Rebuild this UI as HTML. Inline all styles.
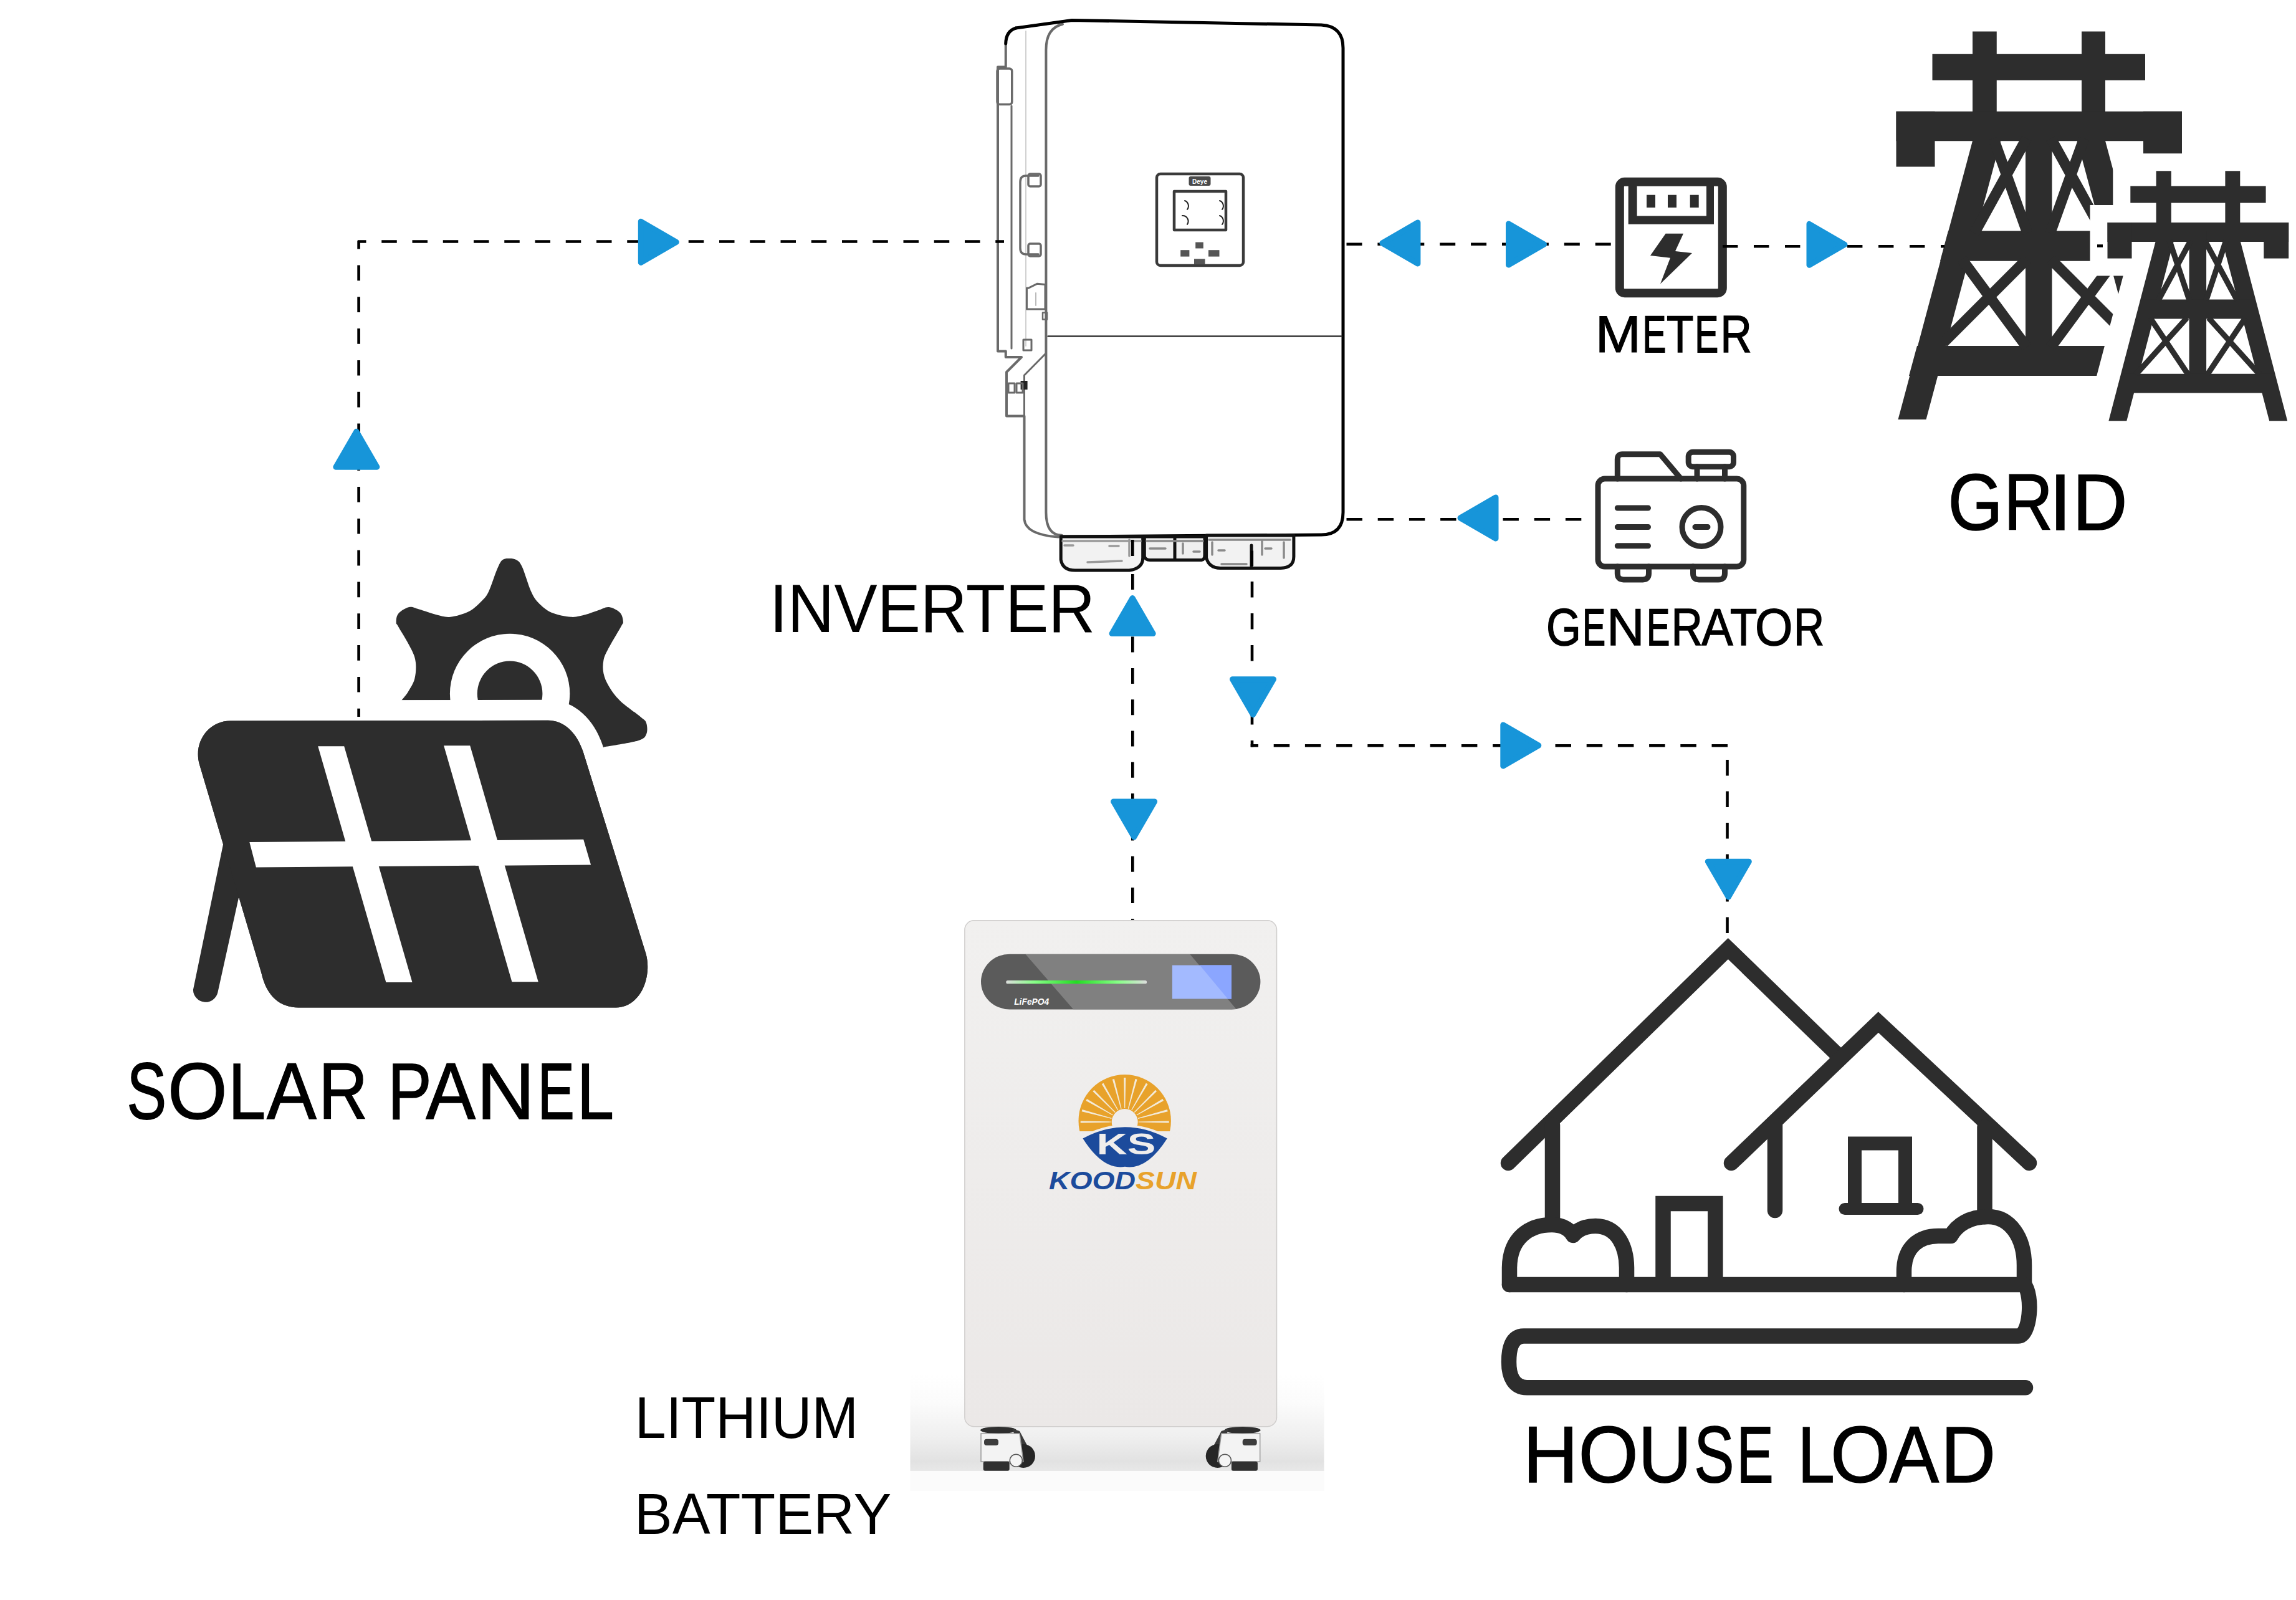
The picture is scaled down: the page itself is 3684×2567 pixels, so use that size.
<!DOCTYPE html>
<html><head><meta charset="utf-8"><style>html,body{margin:0;padding:0;background:#fff;overflow:hidden}svg{display:block}</style></head>
<body><svg width="3684" height="2567" viewBox="0 0 3684 2567"><rect width="3684" height="2567" fill="#fff"/>
<defs><linearGradient id="shadow" x1="0" y1="0" x2="0" y2="1"><stop offset="0" stop-color="#fff"/><stop offset="0.3" stop-color="#fbfbfb"/><stop offset="0.65" stop-color="#efefef"/><stop offset="0.9" stop-color="#e2e2e2"/><stop offset="1" stop-color="#e8e8e8"/></linearGradient><linearGradient id="gbar" x1="0" y1="0" x2="1" y2="0"><stop offset="0" stop-color="#ddd"/><stop offset="0.2" stop-color="#8f8"/><stop offset="0.5" stop-color="#2d2"/><stop offset="0.8" stop-color="#8f8"/><stop offset="1" stop-color="#ddd"/></linearGradient></defs>
<rect x="1460.5" y="2360" width="664" height="32" fill="#fbfbfb"/><rect x="1460.5" y="2205" width="664" height="155" fill="url(#shadow)"/>
<linearGradient id="body" x1="0" y1="0" x2="0" y2="1"><stop offset="0" stop-color="#f1f0ef"/><stop offset="1" stop-color="#ebe8e7"/></linearGradient><rect x="1547.9" y="1476.8" width="500.6" height="811.9" rx="15" fill="url(#body)" stroke="#cfcdcc" stroke-width="1.5"/>
<rect x="1574" y="1530.7" width="448.4" height="88.8" rx="46" fill="#5b5b5b"/>
<clipPath id="pill"><rect x="1574" y="1530.7" width="448.4" height="88.8" rx="46"/></clipPath>
<polygon points="1645.3,1530.7 1909.2,1530.7 1984,1619.5 1722.3,1619.5" fill="#808080" clip-path="url(#pill)"/>
<rect x="1614.3" y="1573" width="225.8" height="5.3" rx="2.6" fill="url(#gbar)"/>
<rect x="1880.9" y="1548.6" width="95.1" height="53.9" fill="#a3baff"/>
<polygon points="1925,1548.6 1976,1548.6 1976,1602.5 1970,1602.5" fill="#8ba6ff"/>
<text x="1627.2" y="1612.2" font-family="Liberation Sans, sans-serif" font-weight="bold" font-style="italic" font-size="15" fill="#fff" textLength="56" lengthAdjust="spacingAndGlyphs">LiFePO4</text>
<ellipse cx="1602" cy="2294.5" rx="29" ry="5.5" fill="#2e2e2e"/>
<polygon points="1624.0,2292.0 1636.0,2296.0 1655.0,2332.0 1642.0,2338.0" fill="#3a3a3a"/>
<circle cx="1642" cy="2336" r="19" fill="#262626"/>
<path d="M1574 2300 H1636 L1642 2345 H1574 Z" fill="#f3f3f3" stroke="#9a9a9a" stroke-width="1.5"/>
<rect x="1579" y="2308.7" width="23" height="10.3" rx="4" fill="#3c3c3c"/>
<rect x="1577.7" y="2344.7" width="42" height="15" rx="3" fill="#303030"/>
<circle cx="1630.3" cy="2343.2" r="10" fill="#f4f4f4" stroke="#555" stroke-width="1.5"/>
<ellipse cx="1993.6999999999998" cy="2294.5" rx="29" ry="5.5" fill="#2e2e2e"/>
<polygon points="1971.7,2292.0 1959.7,2296.0 1940.7,2332.0 1953.7,2338.0" fill="#3a3a3a"/>
<circle cx="1953.6999999999998" cy="2336" r="19" fill="#262626"/>
<path d="M2021.6999999999998 2300 H1959.6999999999998 L1953.6999999999998 2345 H2021.6999999999998 Z" fill="#f3f3f3" stroke="#9a9a9a" stroke-width="1.5"/>
<rect x="1993.6999999999998" y="2308.7" width="23" height="10.3" rx="4" fill="#3c3c3c"/>
<rect x="1975.8999999999999" y="2344.7" width="42" height="15" rx="3" fill="#303030"/>
<circle cx="1965.3999999999999" cy="2343.2" r="10" fill="#f4f4f4" stroke="#555" stroke-width="1.5"/>
<defs><clipPath id="sunclip"><rect x="1725" y="1720" width="160" height="95"/></clipPath></defs>
<g clip-path="url(#sunclip)"><circle cx="1804.7" cy="1798.3" r="74.2" fill="#e8a22b"/></g>
<path d="M1782.7 1800.6 L1733.7 1801.6 L1733.7 1798.4 L1782.7 1799.4Z M1783.3 1794.9 L1735.7 1783.2 L1736.5 1780.1 L1783.6 1793.7Z M1785.3 1789.5 L1742.4 1765.9 L1744.0 1763.1 L1785.9 1788.5Z M1788.7 1784.9 L1753.4 1750.9 L1755.6 1748.7 L1789.6 1784.0Z M1793.2 1781.2 L1767.8 1739.3 L1770.6 1737.7 L1794.2 1780.6Z M1798.4 1778.9 L1784.8 1731.8 L1787.9 1731.0 L1799.6 1778.6Z M1804.1 1778.0 L1803.1 1729.0 L1806.3 1729.0 L1805.3 1778.0Z M1809.8 1778.6 L1821.5 1731.0 L1824.6 1731.8 L1811.0 1778.9Z M1815.2 1780.6 L1838.8 1737.7 L1841.6 1739.3 L1816.2 1781.2Z M1819.8 1784.0 L1853.8 1748.7 L1856.0 1750.9 L1820.7 1784.9Z M1823.5 1788.5 L1865.4 1763.1 L1867.0 1765.9 L1824.1 1789.5Z M1825.8 1793.7 L1872.9 1780.1 L1873.7 1783.2 L1826.1 1794.9Z M1826.7 1799.4 L1875.7 1798.4 L1875.7 1801.6 L1826.7 1800.6Z" fill="#f3ead8"/>
<circle cx="1804.7" cy="1800" r="21" fill="#efedec"/>
<path d="M1737.4 1826.5 Q1805 1790 1872.8 1826.5 Q1840 1878 1805 1871.8 Q1770 1878 1737.4 1826.5 Z" fill="#efedec" stroke="#efedec" stroke-width="8"/>
<path d="M1737.4 1826.5 Q1805 1790 1872.8 1826.5 Q1840 1878 1805 1871.8 Q1770 1878 1737.4 1826.5 Z" fill="#1c4b9c"/>
<text x="1759.4" y="1851.9" font-family="Liberation Sans, sans-serif" font-weight="bold" font-size="48" fill="#efedec" textLength="95" lengthAdjust="spacingAndGlyphs">KS</text>
<text x="1683" y="1907.6" font-family="Liberation Sans, sans-serif" font-weight="bold" font-style="italic" font-size="40" textLength="237" lengthAdjust="spacingAndGlyphs"><tspan fill="#1c4b9c">KOOD</tspan><tspan fill="#e8a22b">SUN</tspan></text>
<path d="M644.4 1123.6C646.1 1121.3 651.3 1115.8 654.8 1110.0C658.3 1104.2 663.3 1096.8 665.3 1089.0C667.3 1081.2 667.9 1070.7 667.0 1062.9C666.1 1055.1 664.7 1051.6 660.1 1042.0C655.5 1032.4 643.3 1012.6 639.2 1005.4C635.1 998.1 635.7 1002.0 635.7 998.5C635.7 995.0 635.7 988.6 639.2 984.5C642.7 980.4 651.1 975.2 656.6 974.1C662.1 973.0 665.0 975.6 672.3 977.6C679.5 979.6 691.7 984.3 700.1 986.3C708.5 988.3 714.1 990.7 722.8 989.8C731.5 988.9 744.3 985.1 752.4 981.0C760.5 976.9 766.4 970.6 771.6 965.4C776.8 960.2 779.4 958.4 783.8 949.7C788.1 941.0 794.0 921.6 797.7 913.1C801.4 904.6 802.7 901.4 806.0 898.5C809.3 895.6 813.9 896.0 817.7 896.0C821.5 896.0 825.6 896.2 829.0 898.5C832.4 900.8 834.0 901.4 837.8 909.6C841.6 917.8 847.4 938.3 851.7 947.9C856.1 957.5 858.4 961.3 863.9 967.1C869.4 972.9 876.1 979.0 884.8 982.8C893.5 986.6 907.2 989.2 916.2 989.8C925.2 990.4 931.5 988.0 938.8 986.3C946.0 984.5 953.3 981.3 959.7 979.3C966.1 977.3 971.3 973.5 977.1 974.1C982.9 974.7 990.8 979.0 994.6 982.8C998.4 986.6 999.5 992.9 999.8 996.7C1000.1 1000.5 1000.4 997.9 996.3 1005.4C992.2 1012.9 980.0 1033.0 975.4 1042.0C970.8 1051.0 969.6 1053.0 968.4 1059.4C967.2 1065.8 966.9 1073.3 968.4 1080.3C969.9 1087.3 972.7 1094.0 977.1 1101.3C981.5 1108.6 986.2 1115.8 994.6 1123.9C1003.0 1132.0 1020.5 1144.1 1027.6 1150.1C1034.7 1156.1 1035.4 1155.3 1037.0 1160.0C1038.6 1164.7 1039.3 1173.3 1037.0 1178.0C1034.7 1182.7 1034.4 1185.0 1023.1 1188.4C1011.8 1191.8 978.1 1196.8 969.1 1198.5 L900 1250 L644.4 1250 Z" fill="#2d2d2d"/>
<circle cx="818.1" cy="1112.9" r="96.2" fill="#fff"/>
<circle cx="818.1" cy="1112.9" r="52.3" fill="#2d2d2d"/>
<path d="M369.5 1156.5 L879.3 1155.8 C905 1156 925 1175 935.6 1206 L1036.5 1530.5 C1046 1565 1030 1615 988.5 1616.6 L478.7 1616.6 C450 1616 428 1600 419.2 1560.3 L319.9 1226 C310 1190 335 1156.5 369.5 1156.5 Z" fill="#2d2d2d" stroke="#fff" stroke-width="66" paint-order="stroke"/>
<path d="M358.6 1352 L380 1352 L400 1440 L382.8 1441 L349.2 1593 A20 20 0 0 1 309.9 1588 Z" fill="#2d2d2d"/>
<path d="M369.5 1156.5 L879.3 1155.8 C905 1156 925 1175 935.6 1206 L1036.5 1530.5 C1046 1565 1030 1615 988.5 1616.6 L478.7 1616.6 C450 1616 428 1600 419.2 1560.3 L319.9 1226 C310 1190 335 1156.5 369.5 1156.5 Z" fill="#2d2d2d"/>
<path d="M400.3 1351.1 L936.2 1346.8 L948.1 1387.5 L410.9 1391.5 Z" fill="#fff"/>
<path d="M510.2 1197.2 L552.2 1197.2 L661.5 1575.9 L619.4 1575.9 Z" fill="#fff"/>
<path d="M712.1 1196.2 L754.2 1196.2 L863.7 1575.2 L821.4 1575.2 Z" fill="#fff"/>
<g fill="none" stroke-linejoin="round" stroke-linecap="round">
<path d="M1720 32.5 L1630 45 Q1614 50 1613.75 70 V107.5 H1601 V563.4 H1613.75 V573 H1639 L1615 597 V667.5 H1643.5 V833.4 Q1646 858 1698 861.5" stroke="#6a6a6a" stroke-width="4"/>
<path d="M1630 45 Q1614 50 1613.75 70" stroke="#000" stroke-width="5"/>
<path d="M1623 170 V559" stroke="#6a6a6a" stroke-width="3"/>
<path d="M1646 50 V555" stroke="#d0d0d0" stroke-width="2"/>
<path d="M1705 38.75 Q1678.4 45 1678.4 80 V822 Q1678.4 858.7 1703.7 858.7" stroke="#6a6a6a" stroke-width="4"/>
<path d="M1630 45 L1720 32.5 L2120 40 Q2155 42 2155 77 V822 Q2155 858 2120 858 L1703.7 861" stroke="#000" stroke-width="5"/>
<path d="M1681.6 539.5 H2152.5" stroke="#333" stroke-width="2.5"/>
<rect x="1600" y="110" width="23.75" height="57.5" rx="4" stroke="#6a6a6a" stroke-width="3.5"/>
<path d="M1666 282 H1646 Q1637 282 1637 292 V398 Q1637 408 1646 408 H1666" stroke="#6a6a6a" stroke-width="3.5"/>
<rect x="1650" y="279" width="20" height="20" rx="3" stroke="#6a6a6a" stroke-width="3.5"/>
<rect x="1650" y="391" width="20" height="20" rx="3" stroke="#6a6a6a" stroke-width="3.5"/>
<path d="M1650.3 462.2 L1664.4 455.2 L1677 456.6 V496 H1647.5 V462 Z" stroke="#6a6a6a" stroke-width="3"/>
<path d="M1662 470 V490" stroke="#bbb" stroke-width="2"/>
<rect x="1673" y="501.6" width="7" height="11" stroke="#6a6a6a" stroke-width="2.5"/>
<rect x="1642" y="545" width="13" height="17" stroke="#6a6a6a" stroke-width="3"/>
<path d="M1643.5 667.5 V602 L1678 567" stroke="#6a6a6a" stroke-width="3"/>
<rect x="1637.6" y="611" width="11" height="14" fill="#222" stroke="none"/>
<rect x="1618" y="615" width="10" height="15" stroke="#6a6a6a" stroke-width="3"/>
<rect x="1631" y="615" width="10" height="15" stroke="#6a6a6a" stroke-width="3"/>
<rect x="1856" y="279" width="139" height="147" rx="6" stroke="#3a3a3a" stroke-width="4.5"/>
<rect x="1884" y="307" width="83" height="62" stroke="#3a3a3a" stroke-width="4.5"/>
<rect x="1907.5" y="283" width="35" height="15" rx="3" fill="#4a4a4a"/>
<text x="1925" y="295" font-family="Liberation Sans, sans-serif" font-weight="bold" font-size="10" fill="#fff" text-anchor="middle">Deye</text>
<path d="M1901 322 A9 9 0 0 1 1905 336 M1957 322 A9 9 0 0 1 1961 336 M1897 346 A9 9 0 0 1 1905 360 M1957 346 A9 9 0 0 1 1961 360" stroke="#222" stroke-width="2"/>
<rect x="1894.2" y="401.2" width="14.2" height="10.4" fill="#555"/>
<rect x="1918.2" y="388.6" width="12.6" height="9.9" fill="#555"/>
<rect x="1939" y="401.2" width="17.5" height="10.4" fill="#555"/>
<rect x="1916" y="415.4" width="17.5" height="8.8" fill="#555"/>
<path d="M1702.2 861 V898 Q1705 915 1725 915 H1812 Q1833.7 912 1833.7 895 V861 Z" fill="#f2f2f2" stroke="#111" stroke-width="5"/>
<path d="M1705 868 H1830 M1708 875 H1722 M1745 902 L1800 900 M1780 876 H1795 M1812 866 V892" stroke="#9a9a9a" stroke-width="3.5"/>
<path d="M1836.3 861 V893 Q1838 898.4 1845 898.4 H1928 Q1933 898 1933 890 V861 Z M1885 861 V898" fill="#efefef" stroke="#111" stroke-width="5"/>
<path d="M1840 868 H1930 M1845 880 H1870 M1898 872 V888 M1915 885 H1925" stroke="#8a8a8a" stroke-width="3.5"/>
<path d="M1935.6 859 V895 Q1940 911.4 1958 911.4 H2055 Q2075.9 911 2075.9 893 V859 Z M2008 875 V908" fill="#f2f2f2" stroke="#111" stroke-width="5"/>
<path d="M1940 866 H2070 M1945 870 V890 M1955 883 H1965 M2025 868 V890 M2030 880 H2040 M2060 870 V895 M1960 905 H2000" stroke="#8a8a8a" stroke-width="3.5"/>
</g>
<rect x="2598.8" y="291.8" width="165" height="178.4" rx="8" fill="none" stroke="#2d2d2d" stroke-width="14"/>
<path d="M2612.7 298 V359.8 H2750 V298 H2738 V346.5 H2626.6 V298 Z" fill="#2d2d2d"/>
<rect x="2642" y="312.7" width="14" height="20.3" fill="#2d2d2d"/>
<rect x="2676" y="312.7" width="14" height="20.3" fill="#2d2d2d"/>
<rect x="2711.7" y="312.7" width="14" height="20.3" fill="#2d2d2d"/>
<path d="M2672.6 374.7 L2701 374.7 L2688 403 L2715 406 L2664 455.6 L2680 413.8 L2648 410 Z" fill="#2d2d2d"/>
<g fill="none" stroke="#2d2d2d" stroke-width="9" stroke-linecap="round" stroke-linejoin="round">
<rect x="2564" y="768" width="233.8" height="141" rx="11"/>
<path d="M2595.3 768 V737 Q2595.3 728.8 2603 728.8 H2664 L2697 768"/>
<rect x="2709.2" y="725.3" width="72.3" height="23.4" rx="7"/>
<path d="M2723 748.7 V768 M2767.5 748.7 V768"/>
<path d="M2595.3 909 V920 Q2595.3 929.9 2605 929.9 H2636 Q2645.5 929.9 2645.5 920 V909"/>
<path d="M2716.5 909 V920 Q2716.5 929.9 2726 929.9 H2757 Q2767.5 929.9 2767.5 920 V909"/>
<path d="M2595.3 815 H2644.5 M2595.3 845.5 H2644.5 M2595.3 875.8 H2644.5"/>
<circle cx="2730" cy="845.5" r="31"/>
<path d="M2720 845.5 H2740"/>
</g>
<g fill="#2d2d2d"><rect x="3165" y="50.5" width="38.75" height="180"/><rect x="3340" y="50.5" width="38" height="180"/><rect x="3100.5" y="86.75" width="341.5" height="42"/><rect x="3042.5" y="178.75" width="458.5" height="47.5"/><rect x="3042.5" y="178.75" width="62" height="88.75"/><rect x="3439" y="178.75" width="62" height="88.75"/><rect x="3250" y="200" width="42.5" height="403"/><polygon points="3165,226 3210,226 3090.5,673 3045.5,673"/><polygon points="3333,226 3378,226 3498,673 3453,673"/><polygon points="3126,370.5 3417,370.5 3430,418.75 3113,418.75"/><polygon points="3076,555 3467,555 3480,603 3063,603"/><path d="M3198.6 222L3253 374 M3251.7 222L3168 374 M3343.9 222L3289.5 374 M3290.8 222L3374.5 374 M3148 416L3252 557 M3252 416L3118 550 M3394.5 416L3290.5 557 M3290.5 416L3424.5 550" stroke="#2d2d2d" stroke-width="17" fill="none"/></g>
<polygon points="3459.6,274.3 3594.3,274.3 3594.3,298.5 3635.6,298.5 3635.6,357.0 3672.2,357.0 3672.2,414.6 3602.0,414.6 3675.0,675.3 3374.0,675.3 3443.0,414.6 3381.5,414.6 3381.5,357.0 3418.3,357.0 3418.3,298.5 3459.6,298.5" fill="#fff" stroke="#fff" stroke-width="56" stroke-linejoin="miter" stroke-miterlimit="3"/>
<g fill="#2d2d2d"><rect x="3459.6" y="274.3" width="24.2" height="100"/><rect x="3570.4" y="274.3" width="23.9" height="100"/><rect x="3418.3" y="298.5" width="217.3" height="27"/><rect x="3381.5" y="357" width="290.7" height="31"/><rect x="3381.5" y="357" width="39" height="57.6"/><rect x="3632.3" y="357" width="39.9" height="57.6"/><rect x="3512.6" y="370" width="27.5" height="240"/><polygon points="3458.5,388 3487.5,388 3412.3,675.3 3383.4,675.3"/><polygon points="3566,388 3595,388 3670.2,675.3 3641.2,675.3"/><polygon points="3436,480.6 3617,480.6 3625,511.6 3428,511.6"/><polygon points="3405,599.7 3648,599.7 3656,630.5 3397,630.5"/><path d="M3481 386L3513 482 M3515 386L3463 482 M3571.7 386L3539.7 482 M3537.7 386L3589.7 482 M3450 510L3511 601 M3509 510L3427 601 M3602.7 510L3541.7 601 M3543.7 510L3625.7 601" stroke="#2d2d2d" stroke-width="9" fill="none"/></g>
<g fill="none" stroke="#2d2d2d" stroke-width="24.5" stroke-linecap="round" stroke-linejoin="round">
<path d="M2420 1866 L2772.8 1522 L2946 1690" stroke-linejoin="miter"/>
<path d="M2778 1866 L3013.9 1640 L3256 1866" stroke-linejoin="miter"/>
<path d="M2491 1805 V1960"/>
<path d="M2848 1805 V1942" />
<path d="M3184.5 1808 V1952" />
<path d="M2668.5 2061 V1931 H2752.3 V2061" stroke-linecap="butt" stroke-linejoin="miter"/>
<path d="M2976 1931 V1834.5 H3057 V1931" stroke-linecap="butt" stroke-linejoin="miter" stroke-width="22"/>
<path d="M2960 1939.5 H3077" stroke-width="19"/>
<path d="M2422 2061 V2035 C2422 1985 2455 1965 2490 1965 C2510 1965 2520 1975 2524 1982 C2532 1972 2545 1967 2560 1967 C2595 1967 2610 2000 2610 2035 V2061"/>
<path d="M3055 2061 V2040 C3055 2000 3080 1983 3110 1983 L3130 1983 C3140 1965 3160 1952 3190 1952 C3225 1952 3248 1985 3248 2030 V2061"/>
<path d="M2422 2061 H3248 C3262 2078 3258 2143.6 3238 2143.6 H2445 C2425 2143.6 2421 2165 2421 2185 C2421 2210 2430 2226.3 2450 2226.3 H3250"/>
</g>
<path d="M575.6 386.0V1150.0" stroke="#000" stroke-width="4.6" stroke-dasharray="24.7 26.1" stroke-dashoffset="11.3" fill="none"/>
<path d="M574.0 387.5H1611.0" stroke="#000" stroke-width="4.6" stroke-dasharray="24.5 24.75" stroke-dashoffset="11" fill="none"/>
<path d="M2160.5 391.8H2591.8" stroke="#000" stroke-width="4.6" stroke-dasharray="25 24.9" stroke-dashoffset="0" fill="none"/>
<path d="M2764.0 395.3H3120.0" stroke="#000" stroke-width="4.6" stroke-dasharray="24.4 25.6" stroke-dashoffset="0" fill="none"/>
<path d="M3365.0 394.5H3374.0" stroke="#000" stroke-width="4.6" stroke-dasharray="10 0" stroke-dashoffset="0" fill="none"/>
<path d="M2160.5 833.3H2560.0" stroke="#000" stroke-width="4.6" stroke-dasharray="25.4 24.8" stroke-dashoffset="0" fill="none"/>
<path d="M1817.3 866.0V892.0" stroke="#000" stroke-width="4.6" stroke-dasharray="26 0" stroke-dashoffset="0" fill="none"/>
<path d="M1817.3 918.0V1476.0" stroke="#000" stroke-width="4.6" stroke-dasharray="25 25.3" stroke-dashoffset="-3" fill="none"/>
<path d="M2008.8 883.5V908.0" stroke="#000" stroke-width="4.6" stroke-dasharray="26 0" stroke-dashoffset="0" fill="none"/>
<path d="M2009.0 933.0V1198.6" stroke="#000" stroke-width="4.6" stroke-dasharray="25.5 25.5" stroke-dashoffset="0" fill="none"/>
<path d="M2006.7 1196.3H2773.8" stroke="#000" stroke-width="4.6" stroke-dasharray="25.5 24.7" stroke-dashoffset="13.2" fill="none"/>
<path d="M2771.5 1194.0V1505.0" stroke="#000" stroke-width="4.6" stroke-dasharray="25.5 25" stroke-dashoffset="25.5" fill="none"/>
<polygon points="1028.3,355.3 1085.3,388.3 1028.3,421.3" fill="#1795d9" stroke="#1795d9" stroke-width="9.0" stroke-linejoin="round"/>
<polygon points="538.9,749.2 571.9,692.2 604.9,749.2" fill="#1795d9" stroke="#1795d9" stroke-width="9.0" stroke-linejoin="round"/>
<polygon points="2274.9,357.0 2217.9,390.0 2274.9,423.0" fill="#1795d9" stroke="#1795d9" stroke-width="9.0" stroke-linejoin="round"/>
<polygon points="2420.5,359.0 2477.5,392.0 2420.5,425.0" fill="#1795d9" stroke="#1795d9" stroke-width="9.0" stroke-linejoin="round"/>
<polygon points="2903.0,359.3 2960.0,392.3 2903.0,425.3" fill="#1795d9" stroke="#1795d9" stroke-width="9.0" stroke-linejoin="round"/>
<polygon points="2400.0,798.0 2343.0,831.0 2400.0,864.0" fill="#1795d9" stroke="#1795d9" stroke-width="9.0" stroke-linejoin="round"/>
<polygon points="1784.1,1016.6 1817.1,959.6 1850.1,1016.6" fill="#1795d9" stroke="#1795d9" stroke-width="9.0" stroke-linejoin="round"/>
<polygon points="1786.6,1286.0 1819.6,1343.0 1852.6,1286.0" fill="#1795d9" stroke="#1795d9" stroke-width="9.0" stroke-linejoin="round"/>
<polygon points="1977.5,1089.7 2010.5,1146.7 2043.5,1089.7" fill="#1795d9" stroke="#1795d9" stroke-width="9.0" stroke-linejoin="round"/>
<polygon points="2411.8,1163.0 2468.8,1196.0 2411.8,1229.0" fill="#1795d9" stroke="#1795d9" stroke-width="9.0" stroke-linejoin="round"/>
<polygon points="2740.3,1382.2 2773.3,1439.2 2806.3,1382.2" fill="#1795d9" stroke="#1795d9" stroke-width="9.0" stroke-linejoin="round"/>
<text transform="translate(203.47 1795) scale(0.7439 1)" font-family="Liberation Sans, sans-serif" font-size="128.20" fill="#000" stroke="#000" stroke-width="1.75">S</text><text transform="translate(269.07 1795) scale(0.9599 1)" font-family="Liberation Sans, sans-serif" font-size="128.20" fill="#000" stroke="#000" stroke-width="1.35">O</text><text transform="translate(366.26 1795) scale(0.8403 1)" font-family="Liberation Sans, sans-serif" font-size="128.20" fill="#000" stroke="#000" stroke-width="1.55">L</text><text transform="translate(427.97 1795) scale(0.9329 1)" font-family="Liberation Sans, sans-serif" font-size="128.20" fill="#000" stroke="#000" stroke-width="1.39">A</text><text transform="translate(511.25 1795) scale(0.8513 1)" font-family="Liberation Sans, sans-serif" font-size="128.20" fill="#000" stroke="#000" stroke-width="1.53">R</text><text transform="translate(622.35 1795) scale(0.8222 1)" font-family="Liberation Sans, sans-serif" font-size="128.20" fill="#000" stroke="#000" stroke-width="1.58">P</text><text transform="translate(683.37 1795) scale(0.9329 1)" font-family="Liberation Sans, sans-serif" font-size="128.20" fill="#000" stroke="#000" stroke-width="1.39">A</text><text transform="translate(764.44 1795) scale(1.0138 1)" font-family="Liberation Sans, sans-serif" font-size="128.20" fill="#000" stroke="#000" stroke-width="1.28">N</text><text transform="translate(862.75 1795) scale(0.6894 1)" font-family="Liberation Sans, sans-serif" font-size="128.20" fill="#000" stroke="#000" stroke-width="1.89">E</text><text transform="translate(925.76 1795) scale(0.8315 1)" font-family="Liberation Sans, sans-serif" font-size="128.20" fill="#000" stroke="#000" stroke-width="1.56">L</text>
<text x="1234.80" y="1014.3" font-family="Liberation Sans, sans-serif" font-size="108.58" textLength="522.40" lengthAdjust="spacingAndGlyphs" fill="#000">INVERTER</text>
<text transform="translate(2559.78 565.3) scale(1.0535 1)" font-family="Liberation Sans, sans-serif" font-size="83.58" fill="#000" stroke="#000" stroke-width="1.23">M</text><text transform="translate(2635.54 565.3) scale(0.6800 1)" font-family="Liberation Sans, sans-serif" font-size="83.58" fill="#000" stroke="#000" stroke-width="1.91">E</text><text transform="translate(2673.90 565.3) scale(0.8507 1)" font-family="Liberation Sans, sans-serif" font-size="83.58" fill="#000" stroke="#000" stroke-width="1.53">T</text><text transform="translate(2719.57 565.3) scale(0.6755 1)" font-family="Liberation Sans, sans-serif" font-size="83.58" fill="#000" stroke="#000" stroke-width="1.92">E</text><text transform="translate(2760.39 565.3) scale(0.8323 1)" font-family="Liberation Sans, sans-serif" font-size="83.58" fill="#000" stroke="#000" stroke-width="1.56">R</text>
<text transform="translate(2480.99 1035.4) scale(0.8522 1)" font-family="Liberation Sans, sans-serif" font-size="84.30" fill="#000" stroke="#000" stroke-width="1.53">G</text><text transform="translate(2539.17 1035.4) scale(0.6544 1)" font-family="Liberation Sans, sans-serif" font-size="84.30" fill="#000" stroke="#000" stroke-width="1.99">E</text><text transform="translate(2577.91 1035.4) scale(0.9959 1)" font-family="Liberation Sans, sans-serif" font-size="84.30" fill="#000" stroke="#000" stroke-width="1.31">N</text><text transform="translate(2642.14 1035.4) scale(0.6588 1)" font-family="Liberation Sans, sans-serif" font-size="84.30" fill="#000" stroke="#000" stroke-width="1.97">E</text><text transform="translate(2681.72 1035.4) scale(0.8211 1)" font-family="Liberation Sans, sans-serif" font-size="84.30" fill="#000" stroke="#000" stroke-width="1.58">R</text><text transform="translate(2730.35 1035.4) scale(0.8962 1)" font-family="Liberation Sans, sans-serif" font-size="84.30" fill="#000" stroke="#000" stroke-width="1.45">A</text><text transform="translate(2775.91 1035.4) scale(0.8413 1)" font-family="Liberation Sans, sans-serif" font-size="84.30" fill="#000" stroke="#000" stroke-width="1.55">T</text><text transform="translate(2815.92 1035.4) scale(0.9227 1)" font-family="Liberation Sans, sans-serif" font-size="84.30" fill="#000" stroke="#000" stroke-width="1.41">O</text><text transform="translate(2878.16 1035.4) scale(0.8011 1)" font-family="Liberation Sans, sans-serif" font-size="84.30" fill="#000" stroke="#000" stroke-width="1.62">R</text>
<text transform="translate(3125.40 849.9) scale(0.8862 1)" font-family="Liberation Sans, sans-serif" font-size="127.91" fill="#000" stroke="#000" stroke-width="1.47">G</text><text transform="translate(3215.16 849.9) scale(0.8519 1)" font-family="Liberation Sans, sans-serif" font-size="127.91" fill="#000" stroke="#000" stroke-width="1.53">R</text><text transform="translate(3287.83 849.9) scale(1.0227 1)" font-family="Liberation Sans, sans-serif" font-size="127.91" fill="#000" stroke="#000" stroke-width="1.27">I</text><text transform="translate(3325.16 849.9) scale(0.9570 1)" font-family="Liberation Sans, sans-serif" font-size="127.91" fill="#000" stroke="#000" stroke-width="1.36">D</text>
<text transform="translate(2443.87 2377.5) scale(0.9614 1)" font-family="Liberation Sans, sans-serif" font-size="127.18" fill="#000" stroke="#000" stroke-width="1.35">H</text><text transform="translate(2532.54 2377.5) scale(0.9733 1)" font-family="Liberation Sans, sans-serif" font-size="127.18" fill="#000" stroke="#000" stroke-width="1.34">O</text><text transform="translate(2628.53 2377.5) scale(0.9346 1)" font-family="Liberation Sans, sans-serif" font-size="127.18" fill="#000" stroke="#000" stroke-width="1.39">U</text><text transform="translate(2718.23 2377.5) scale(0.7567 1)" font-family="Liberation Sans, sans-serif" font-size="127.18" fill="#000" stroke="#000" stroke-width="1.72">S</text><text transform="translate(2786.77 2377.5) scale(0.6935 1)" font-family="Liberation Sans, sans-serif" font-size="127.18" fill="#000" stroke="#000" stroke-width="1.87">E</text><text transform="translate(2884.46 2377.5) scale(0.8381 1)" font-family="Liberation Sans, sans-serif" font-size="127.18" fill="#000" stroke="#000" stroke-width="1.55">L</text><text transform="translate(2936.96 2377.5) scale(0.9699 1)" font-family="Liberation Sans, sans-serif" font-size="127.18" fill="#000" stroke="#000" stroke-width="1.34">O</text><text transform="translate(3031.47 2377.5) scale(0.9392 1)" font-family="Liberation Sans, sans-serif" font-size="127.18" fill="#000" stroke="#000" stroke-width="1.38">A</text><text transform="translate(3113.99 2377.5) scale(0.9598 1)" font-family="Liberation Sans, sans-serif" font-size="127.18" fill="#000" stroke="#000" stroke-width="1.35">D</text>
<text x="1018.80" y="2306.7" font-family="Liberation Sans, sans-serif" font-size="94.33" textLength="358.40" lengthAdjust="spacingAndGlyphs" fill="#000">LITHIUM</text>
<text x="1017.80" y="2461.3" font-family="Liberation Sans, sans-serif" font-size="93.46" textLength="412.60" lengthAdjust="spacingAndGlyphs" fill="#000">BATTERY</text></svg></body></html>
